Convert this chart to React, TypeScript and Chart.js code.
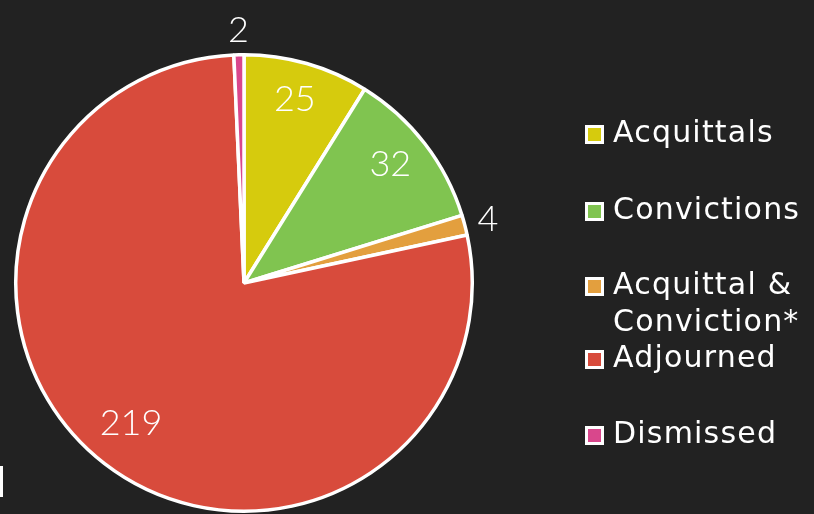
import React, { useEffect, useRef } from "react";
import { Chart, registerables } from "chart.js";

Chart.register(...registerables);

const categories = ["Acquittals", "Convictions", "Acquittal & Conviction*", "Adjourned", "Dismissed"];
const legendLines = [["Acquittals"], ["Convictions"], ["Acquittal &", "Conviction*"], ["Adjourned"], ["Dismissed"]];
const values = [25, 32, 4, 219, 2];
const colors = ["#D6CB0D", "#80C450", "#E39F3E", "#D84B3C", "#D9478C"];
const BG = "#222222";

const labelPlugin = {
  id: "sliceLabels",
  afterDatasetsDraw(chart: any) {
    const ctx = chart.ctx;
    const meta = chart.getDatasetMeta(0);
    const data = chart.data.datasets[0].data as number[];
    const total = data.reduce((a, b) => a + b, 0);
    ctx.save();
    ctx.fillStyle = "#ffffff";
    ctx.font = "300 36px Lato, 'Open Sans', sans-serif";
    ctx.textAlign = "center";
    ctx.textBaseline = "middle";
    meta.data.forEach((arc: any, i: number) => {
      const { x, y, startAngle, endAngle, outerRadius } = arc.getProps(["x", "y", "startAngle", "endAngle", "outerRadius"], true);
      const mid = (startAngle + endAngle) / 2;
      const inside = data[i] / total > 0.05;
      const r = inside ? outerRadius * 0.81 : outerRadius + 24;
      const dy = inside ? -6 : 0;
      ctx.fillText(String(data[i]), x + Math.cos(mid) * r, y + Math.sin(mid) * r + dy);
    });
    // stray cut-off mark at bottom-left edge
    ctx.fillRect(0, 466, 3, 31);
    ctx.restore();
  },
  afterDraw(chart: any) {
    const ctx = chart.ctx;
    ctx.save();
    const ys = [134, 211, 286, 359, 435];
    const cols = chart.data.datasets[0].backgroundColor as string[];
    ctx.font = "400 30px 'DejaVu Sans', sans-serif";
    (ctx as any).letterSpacing = "1.2px";
    ctx.textBaseline = "middle";
    ctx.textAlign = "left";
    legendLines.forEach((lines, i) => {
      const y = ys[i];
      ctx.fillStyle = "#ffffff";
      ctx.fillRect(585, y - 9, 19, 19);
      ctx.fillStyle = cols[i];
      ctx.fillRect(588, y - 6, 13, 13);
      ctx.fillStyle = "#ffffff";
      lines.forEach((t, j) => ctx.fillText(t, 613, y + j * 37));
    });
    ctx.restore();
  },
};

export default function App() {
  const ref = useRef<HTMLCanvasElement>(null);
  useEffect(() => {
    const chart = new Chart(ref.current!, {
      type: "pie",
      data: {
        labels: categories,
        datasets: [
          {
            data: values,
            backgroundColor: colors,
            borderColor: "#ffffff",
            borderWidth: 3.5,
          },
        ],
      },
      options: {
        animation: false,
        responsive: false,
        layout: { padding: { left: 14, top: 53, right: 340, bottom: 1 } },
        plugins: { legend: { display: false }, tooltip: { enabled: false } },
      },
      plugins: [labelPlugin],
    });
    return () => chart.destroy();
  }, []);
  return (
    <div style={{ position: "fixed", left: 0, top: 0, width: 814, height: 514, background: BG }}>
      <canvas ref={ref} width={814} height={514} style={{ display: "block" }} />
    </div>
  );
}
